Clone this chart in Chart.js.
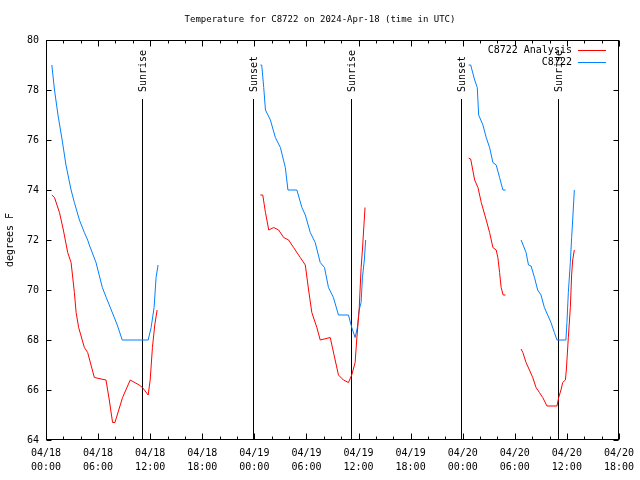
<!DOCTYPE html>
<html>
<head>
<meta charset="utf-8">
<script src="https://cdn.jsdelivr.net/npm/chart.js@4"></script>
<style>
  html, body { margin: 0; padding: 0; background: #fff; }
</style>
</head>
<body>
<canvas id="tempChart" width="640" height="480"></canvas>
<script>
// hours since 04/18 00:00 UTC, null = gap in the record
const obsHours = [0.67, 0.98, 1.38, 1.86, 2.3, 2.89, 3.27, 3.85, 4.42, 4.8, 4.99, 5.76, 6.49, 6.94, 7.52, 8.21, 8.78, 11.77, 12.11, 12.45, 12.68, 12.91,
  18,
  24.7, 24.85, 25.08, 25.28, 25.85, 26.42, 27.0, 27.57, 27.87, 28.9, 29.48, 29.87, 30.44, 31.01, 31.59, 32.08, 32.54, 33.11, 33.69, 34.84, 35.22, 35.61, 35.87, 36.07, 36.3, 36.45, 36.67, 36.82,
  42,
  48.69, 48.92, 49.38, 49.68, 49.84, 50.33, 50.71, 51.1, 51.48, 51.86, 52.25, 52.63, 52.94,
  53.8,
  54.73, 55.3, 55.58, 55.88, 56.27, 56.64, 57.02, 57.41, 57.79, 58.17, 58.56, 58.86, 59.89, 60.01, 60.17, 60.4, 60.55, 60.67, 60.86];
const obsTemps = [79.0, 78.0, 77.0, 76.0, 75.0, 74.0, 73.5, 72.8, 72.3, 72.0, 71.8, 71.1, 70.1, 69.7, 69.2, 68.6, 68.0, 68.0, 68.5, 69.3, 70.5, 71.0,
  null,
  79.0, 79.0, 78.1, 77.2, 76.8, 76.1, 75.7, 74.9, 74.0, 74.0, 73.3, 73.0, 72.3, 71.9, 71.1, 70.9, 70.1, 69.7, 69.0, 69.0, 68.5, 68.1, 68.5, 69.2, 69.5, 70.5, 71.2, 72.0,
  null,
  79.0, 79.0, 78.4, 78.1, 77.0, 76.6, 76.1, 75.7, 75.1, 75.0, 74.5, 74.0, 74.0,
  null,
  72.0, 71.5, 71.0, 70.96, 70.5, 70.0, 69.8, 69.3, 69.0, 68.7, 68.3, 68.0, 68.0, 68.7, 69.9, 71.1, 72.1, 72.8, 74.0];

const anaHours = [0.67, 0.98, 1.55, 2.0, 2.5, 2.89, 3.27, 3.47, 3.76, 4.42, 4.8, 5.57, 6.91, 7.29, 7.67, 7.94, 8.82, 9.7, 10.73, 11.11, 11.77, 12.0, 12.26, 12.53, 12.8,
  18,
  24.7, 24.97, 25.28, 25.66, 26.23, 26.8, 27.38, 27.95, 28.52, 29.29, 29.87, 30.25, 30.62, 31.2, 31.59, 32.74, 33.31, 33.69, 34.26, 34.84, 35.22, 35.61, 35.79, 36.07, 36.3, 36.45, 36.59, 36.75,
  42,
  48.69, 48.92, 49.38, 49.76, 50.14, 50.71, 51.1, 51.48, 51.86, 52.05, 52.25, 52.43, 52.66, 52.94,
  53.8,
  54.73, 54.93, 55.3, 55.69, 56.07, 56.45, 56.84, 57.22, 57.71, 58.86, 59.06, 59.32, 59.52, 59.83, 59.94, 60.17, 60.4, 60.55, 60.67, 60.86];
const anaTemps = [73.8, 73.7, 73.1, 72.4, 71.5, 71.1, 69.9, 69.1, 68.5, 67.7, 67.5, 66.5, 66.4, 65.6, 64.7, 64.7, 65.7, 66.4, 66.2, 66.1, 65.8, 66.4, 67.7, 68.6, 69.2,
  null,
  73.8, 73.8, 73.1, 72.4, 72.5, 72.4, 72.1, 72.0, 71.7, 71.3, 71.0, 70.0, 69.1, 68.5, 68.0, 68.1, 67.2, 66.6, 66.4, 66.3, 66.6, 67.1, 68.0, 69.2, 70.9, 71.6, 72.4, 73.3,
  null,
  75.27, 75.24, 74.4, 74.1, 73.5, 72.8, 72.3, 71.7, 71.6, 71.3, 70.7, 70.1, 69.8, 69.8,
  null,
  67.64, 67.5, 67.1, 66.8, 66.5, 66.1, 65.9, 65.7, 65.36, 65.36, 65.7, 66.0, 66.3, 66.4, 66.8, 68.1, 69.3, 70.6, 71.2, 71.6];

const eventHours = [11.11, 23.85, 35.1, 47.84, 58.94];
const eventLabels = ['Sunrise', 'Sunset', 'Sunrise', 'Sunset', 'Sunrise'];

const dayLabels = ['04/18', '04/19', '04/20', '04/21'];
const timeLabels = ['00:00', '06:00', '12:00', '18:00'];

const FONT = "'DejaVu Sans Mono', monospace";
Chart.defaults.font.family = FONT;
Chart.defaults.font.size = 10;
Chart.defaults.color = '#000';

const toPoints = (xs, ys) => xs.map((x, i) => ({ x: x, y: ys[i] }));

// gnuplot-like frame, inward ticks, sunrise/sunset markers and legend
const gnuFrame = {
  id: 'gnuFrame',
  beforeDatasetsDraw(chart) {
    const { ctx, chartArea: a, scales: { x } } = chart;
    ctx.save();
    ctx.strokeStyle = '#000';
    ctx.lineWidth = 1;
    ctx.fillStyle = '#000';
    ctx.font = '10px ' + FONT;
    eventHours.forEach((h, i) => {
      const px = Math.round(x.getPixelForValue(h)) + 0.5;
      ctx.beginPath();
      ctx.moveTo(px, a.top + 59);
      ctx.lineTo(px, a.bottom);
      ctx.stroke();
      ctx.save();
      ctx.translate(px + 1, a.top + 52);
      ctx.rotate(-Math.PI / 2);
      ctx.textAlign = 'left';
      ctx.textBaseline = 'middle';
      ctx.fillText(eventLabels[i], 0, 0);
      ctx.restore();
    });
    ctx.restore();
  },
  afterDraw(chart) {
    const { ctx, chartArea: a, scales: { x, y } } = chart;
    const L = Math.round(a.left) + 0.5, R = Math.round(a.right) - 0.5;
    const T = Math.round(a.top) + 0.5, B = Math.round(a.bottom) - 0.5;
    ctx.save();
    ctx.strokeStyle = '#000';
    ctx.lineWidth = 1;
    ctx.strokeRect(L, T, R - L, B - T);
    ctx.beginPath();
    for (let h = 0; h <= 66; h += 2) {
      const px = Math.round(x.getPixelForValue(h)) + 0.5;
      const len = h % 6 === 0 ? 6 : 3;
      ctx.moveTo(px, B); ctx.lineTo(px, B - len);
      ctx.moveTo(px, T); ctx.lineTo(px, T + len);
    }
    for (let v = 64; v <= 80; v += 2) {
      const py = Math.round(y.getPixelForValue(v)) + 0.5;
      ctx.moveTo(L, py); ctx.lineTo(L + 5, py);
      ctx.moveTo(R, py); ctx.lineTo(R - 5, py);
    }
    ctx.stroke();

    // legend, text right-aligned before the line sample
    ctx.font = '10px ' + FONT;
    ctx.textAlign = 'right';
    ctx.textBaseline = 'middle';
    chart.data.datasets.forEach((ds, i) => {
      const ly = Math.round(a.top) + 10 + i * 12 + 0.5;
      ctx.fillStyle = '#000';
      ctx.fillText(ds.label, a.right - 47, ly);
      ctx.strokeStyle = ds.borderColor;
      ctx.beginPath();
      ctx.moveTo(a.right - 41, ly);
      ctx.lineTo(a.right - 13, ly);
      ctx.stroke();
    });
    ctx.restore();
  }
};

new Chart(document.getElementById('tempChart'), {
  type: 'line',
  data: {
    datasets: [
      {
        label: 'C8722 Analysis',
        data: toPoints(anaHours, anaTemps),
        borderColor: '#ff0000',
        borderWidth: 1,
        pointRadius: 0,
        tension: 0,
        spanGaps: false
      },
      {
        label: 'C8722',
        data: toPoints(obsHours, obsTemps),
        borderColor: '#0080ff',
        borderWidth: 1,
        pointRadius: 0,
        tension: 0,
        spanGaps: false
      }
    ]
  },
  options: {
    responsive: false,
    devicePixelRatio: 1,
    animation: false,
    layout: { padding: 0 },
    plugins: {
      legend: { display: false },
      tooltip: { enabled: false },
      title: {
        display: true,
        text: 'Temperature for C8722 on 2024-Apr-18 (time in UTC)',
        font: { size: 9, weight: 'normal', lineHeight: 1.2 },
        color: '#000',
        padding: { top: 14.6, bottom: 14.6 }
      }
    },
    scales: {
      x: {
        type: 'linear',
        min: 0,
        max: 66,
        grid: { display: false, drawTicks: false },
        border: { display: false },
        afterFit: (s) => { s.height = 40; },
        ticks: {
          stepSize: 6,
          autoSkip: false,
          maxRotation: 0,
          padding: 6,
          font: { size: 10, lineHeight: 1.4 },
          callback: (v) => [dayLabels[Math.floor(v / 24)], timeLabels[(v % 24) / 6]]
        }
      },
      y: {
        min: 64,
        max: 80,
        grid: { display: false, drawTicks: false },
        border: { display: false },
        afterFit: (s) => { s.width = 46; },
        ticks: { stepSize: 2, padding: 7 },
        title: {
          display: true,
          text: 'degrees F',
          font: { size: 10 },
          padding: { top: 4, bottom: 0 }
        }
      },
      // empty right margin so the title centres on the whole page
      yRight: {
        position: 'right',
        min: 64,
        max: 80,
        grid: { display: false, drawTicks: false },
        border: { display: false },
        ticks: { display: false },
        afterFit: (s) => { s.width = 18; }
      }
    }
  },
  plugins: [gnuFrame]
});
</script>
</body>
</html>
